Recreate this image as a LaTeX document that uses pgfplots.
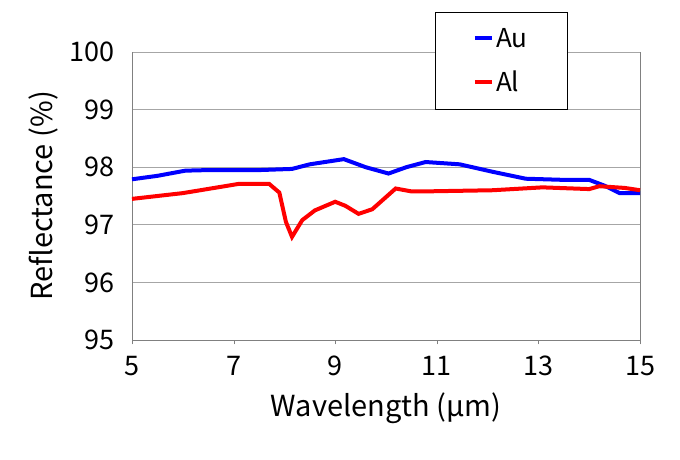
\documentclass[border=0pt]{standalone}
\usepackage{pgfplots}
\pgfplotsset{compat=1.18}
\usepackage{fontspec}
\setmainfont{Noto Sans CJK JP}
\begin{document}
\begin{tikzpicture}[x=1pt,y=1pt]
\useasboundingbox (0,0) rectangle (680,460);
\begin{axis}[at={(132pt,120pt)},anchor=south west,scale only axis,
 width=508pt,height=288pt,xmin=5,xmax=15,ymin=95,ymax=100,
 xtick={5,7,9,11,13,15},ytick={95,96,97,98,99,100},
 axis x line*=bottom, axis y line*=left,
 ymajorgrids, grid style={gray!70,line width=0.8pt},
 axis line style={gray,line width=0.8pt},
 tick style={gray}, xtick align=outside, ytick style={draw=none},
 tick label style={font=\fontsize{27}{29}\selectfont},
 yticklabel style={xshift=-14pt},
 xticklabel style={yshift=-8pt},
 /pgf/number format/assume math mode=true,
 xlabel={Wavelength (μm)}, ylabel={Reflectance (\%)},
 label style={font=\fontsize{29}{31}\selectfont},
 xlabel style={yshift=-10pt},
 ylabel style={yshift=4pt},
 legend style={at={(0.596,1.139)},anchor=north west,draw=black,
   font=\fontsize{26}{28}\selectfont,inner xsep=38pt,inner ysep=14pt,row sep=18pt},
 legend image post style={line width=4pt},
 legend cell align=left,
 clip=false]
\draw[gray,line width=0.8pt] (axis cs:15,95) -- (axis cs:15,100);
\addplot[blue,line width=4pt] coordinates {
(5,97.79)(5.5,97.85)(6.05,97.94)(6.5,97.95)(7,97.95)(7.5,97.95)(8.15,97.97)(8.5,98.05)(9.17,98.14)(9.6,98.0)(10.05,97.89)(10.4,98.0)(10.78,98.09)(11.45,98.05)(12.1,97.92)(12.75,97.8)(13.5,97.78)(14.0,97.78)(14.3,97.68)(14.6,97.55)(15,97.55)};
\addlegendentry{Au}
\addplot[red,line width=4pt] coordinates {
(5,97.45)(6,97.55)(7.1,97.71)(7.7,97.71)(7.9,97.56)(8.03,97.05)(8.15,96.79)(8.35,97.08)(8.6,97.25)(9.0,97.4)(9.2,97.33)(9.46,97.19)(9.73,97.27)(10.19,97.63)(10.5,97.58)(10.78,97.58)(12.1,97.6)(13.08,97.65)(14.0,97.62)(14.2,97.67)(14.7,97.64)(15,97.6)};
\addlegendentry{Al}
\end{axis}
\end{tikzpicture}
\end{document}
